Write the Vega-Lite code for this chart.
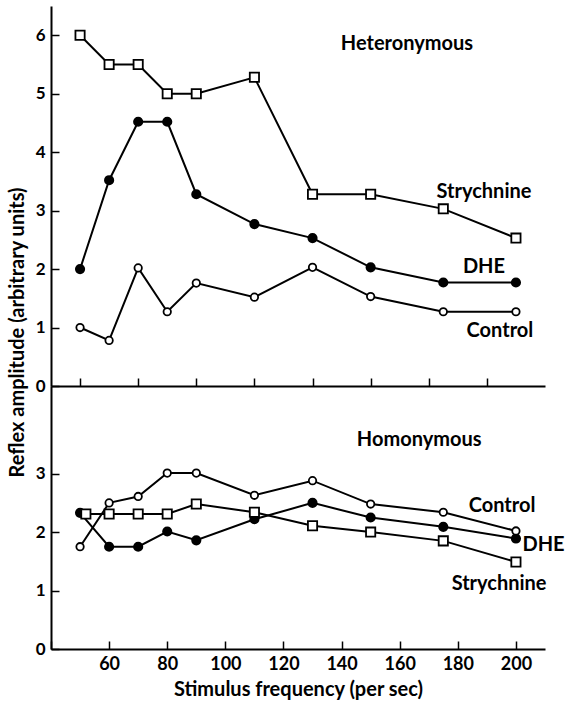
{
  "$schema": "https://vega.github.io/schema/vega-lite/v6.json",
  "background": "white",
  "padding": {"left": 7, "top": 6, "right": 5, "bottom": 5},
  "spacing": 0,
  "bounds": "flush",
  "resolve": {"scale": {"x": "independent", "y": "independent"}, "axis": {"x": "independent", "y": "independent"}},
  "datasets": {
    "het": [
      {"series": "DHE", "freq": 50, "amp": 2.0},
      {"series": "DHE", "freq": 60, "amp": 3.52},
      {"series": "DHE", "freq": 70, "amp": 4.52},
      {"series": "DHE", "freq": 80, "amp": 4.52},
      {"series": "DHE", "freq": 90, "amp": 3.28},
      {"series": "DHE", "freq": 110, "amp": 2.77},
      {"series": "DHE", "freq": 130, "amp": 2.53},
      {"series": "DHE", "freq": 150, "amp": 2.03},
      {"series": "DHE", "freq": 175, "amp": 1.77},
      {"series": "DHE", "freq": 200, "amp": 1.77},
      {"series": "Strychnine", "freq": 50, "amp": 6.0},
      {"series": "Strychnine", "freq": 60, "amp": 5.5},
      {"series": "Strychnine", "freq": 70, "amp": 5.5},
      {"series": "Strychnine", "freq": 80, "amp": 5.0},
      {"series": "Strychnine", "freq": 90, "amp": 5.0},
      {"series": "Strychnine", "freq": 110, "amp": 5.28},
      {"series": "Strychnine", "freq": 130, "amp": 3.28},
      {"series": "Strychnine", "freq": 150, "amp": 3.28},
      {"series": "Strychnine", "freq": 175, "amp": 3.03},
      {"series": "Strychnine", "freq": 200, "amp": 2.53},
      {"series": "Control", "freq": 50, "amp": 1.0},
      {"series": "Control", "freq": 60, "amp": 0.78},
      {"series": "Control", "freq": 70, "amp": 2.02},
      {"series": "Control", "freq": 80, "amp": 1.27},
      {"series": "Control", "freq": 90, "amp": 1.76},
      {"series": "Control", "freq": 110, "amp": 1.52},
      {"series": "Control", "freq": 130, "amp": 2.03},
      {"series": "Control", "freq": 150, "amp": 1.53},
      {"series": "Control", "freq": 175, "amp": 1.27},
      {"series": "Control", "freq": 200, "amp": 1.27}
    ],
    "hom": [
      {"series": "DHE", "freq": 50, "amp": 2.33},
      {"series": "DHE", "freq": 60, "amp": 1.75},
      {"series": "DHE", "freq": 70, "amp": 1.75},
      {"series": "DHE", "freq": 80, "amp": 2.01},
      {"series": "DHE", "freq": 90, "amp": 1.86},
      {"series": "DHE", "freq": 110, "amp": 2.22},
      {"series": "DHE", "freq": 130, "amp": 2.5},
      {"series": "DHE", "freq": 150, "amp": 2.25},
      {"series": "DHE", "freq": 175, "amp": 2.09},
      {"series": "DHE", "freq": 200, "amp": 1.89},
      {"series": "Strychnine", "freq": 52, "amp": 2.31},
      {"series": "Strychnine", "freq": 60, "amp": 2.31},
      {"series": "Strychnine", "freq": 70, "amp": 2.31},
      {"series": "Strychnine", "freq": 80, "amp": 2.31},
      {"series": "Strychnine", "freq": 90, "amp": 2.48},
      {"series": "Strychnine", "freq": 110, "amp": 2.34},
      {"series": "Strychnine", "freq": 130, "amp": 2.11},
      {"series": "Strychnine", "freq": 150, "amp": 2.0},
      {"series": "Strychnine", "freq": 175, "amp": 1.85},
      {"series": "Strychnine", "freq": 200, "amp": 1.49},
      {"series": "Control", "freq": 50, "amp": 1.75},
      {"series": "Control", "freq": 60, "amp": 2.5},
      {"series": "Control", "freq": 70, "amp": 2.61},
      {"series": "Control", "freq": 80, "amp": 3.01},
      {"series": "Control", "freq": 90, "amp": 3.01},
      {"series": "Control", "freq": 110, "amp": 2.63},
      {"series": "Control", "freq": 130, "amp": 2.88},
      {"series": "Control", "freq": 150, "amp": 2.48},
      {"series": "Control", "freq": 175, "amp": 2.34},
      {"series": "Control", "freq": 200, "amp": 2.02}
    ],
    "hetLabels": [
      {"text": "Heteronymous", "freq": 162.5, "amp": 5.85},
      {"text": "Strychnine", "freq": 189, "amp": 3.32},
      {"text": "DHE", "freq": 189, "amp": 2.03},
      {"text": "Control", "freq": 194.5, "amp": 0.94}
    ],
    "homLabels": [
      {"text": "Homonymous", "freq": 166.7, "amp": 3.57},
      {"text": "Control", "freq": 195.2, "amp": 2.45},
      {"text": "DHE", "freq": 209.5, "amp": 1.78},
      {"text": "Strychnine", "freq": 194.2, "amp": 1.11}
    ]
  },
  "vconcat": [
    {
      "width": 494,
      "height": 380,
      "layer": [
        {
          "data": {"name": "het"},
          "mark": {"type": "line", "color": "black", "strokeWidth": 2},
          "encoding": {
            "x": {"field": "freq", "type": "quantitative", "scale": {"domain": [40, 210], "nice": false, "zero": false},
                  "axis": {"title": null, "labels": false, "values": [50, 60, 70, 80, 90, 100, 110, 120, 130, 140, 150, 160, 170, 180, 190, 200]}},
            "y": {"field": "amp", "type": "quantitative", "scale": {"domain": [0, 6.5], "nice": false},
                  "axis": {"title": "Reflex amplitude (arbitrary units)", "values": [0, 0.5, 1, 1.5, 2, 2.5, 3, 3.5, 4, 4.5, 5, 5.5, 6],
                           "labelOverlap": false,
                           "labelExpr": "datum.value % 1 == 0 ? format(datum.value, 'd') : ' '",
                           "titleX": -28, "titleY": 326, "titleAlign": "center", "titleBaseline": "alphabetic"}},
            "detail": {"field": "series"}
          }
        },
        {
          "data": {"name": "het"},
          "mark": {"type": "point", "filled": true, "stroke": "black", "strokeWidth": 1.8, "opacity": 1},
          "encoding": {
            "x": {"field": "freq", "type": "quantitative"},
            "y": {"field": "amp", "type": "quantitative"},
            "shape": {"field": "series", "scale": {"domain": ["Strychnine", "DHE", "Control"], "range": ["square", "circle", "circle"]}, "legend": null},
            "fill": {"field": "series", "scale": {"domain": ["Strychnine", "DHE", "Control"], "range": ["white", "black", "white"]}, "legend": null},
            "size": {"field": "series", "scale": {"domain": ["Strychnine", "DHE", "Control"], "range": [85, 55, 115]}, "legend": null}
          }
        },
        {
          "data": {"name": "hetLabels"},
          "mark": {"type": "text", "font": "Lato", "fontSize": 20, "fontWeight": "bold", "color": "black", "align": "center", "baseline": "middle"},
          "encoding": {
            "x": {"field": "freq", "type": "quantitative"},
            "y": {"field": "amp", "type": "quantitative"},
            "text": {"field": "text"}
          }
        }
      ]
    },
    {
      "width": 494,
      "height": 263,
      "layer": [
        {
          "data": {"name": "hom"},
          "mark": {"type": "line", "color": "black", "strokeWidth": 2},
          "encoding": {
            "x": {"field": "freq", "type": "quantitative", "scale": {"domain": [40, 210], "nice": false, "zero": false},
                  "axis": {"title": "Stimulus frequency (per sec)", "labels": true, "format": "d",
                           "values": [40, 50, 60, 70, 80, 90, 100, 110, 120, 130, 140, 150, 160, 170, 180, 190, 200],
                           "labelOverlap": "parity", "labelFlush": false, "titlePadding": 6, "labelFontSize": 18,
                           "labelExpr": "datum.value >= 55 && round(datum.value) % 20 == 0 ? datum.label : ''"}},
            "y": {"field": "amp", "type": "quantitative", "scale": {"domain": [0, 4.5], "nice": false},
                  "axis": {"title": null, "values": [0, 0.5, 1, 1.5, 2, 2.5, 3, 3.5],
                           "labelOverlap": false,
                           "labelExpr": "datum.value % 1 == 0 ? format(datum.value, 'd') : ' '"}},
            "detail": {"field": "series"}
          }
        },
        {
          "data": {"name": "hom"},
          "mark": {"type": "point", "filled": true, "stroke": "black", "strokeWidth": 1.8, "opacity": 1},
          "encoding": {
            "x": {"field": "freq", "type": "quantitative"},
            "y": {"field": "amp", "type": "quantitative"},
            "shape": {"field": "series", "scale": {"domain": ["Strychnine", "DHE", "Control"], "range": ["square", "circle", "circle"]}, "legend": null},
            "fill": {"field": "series", "scale": {"domain": ["Strychnine", "DHE", "Control"], "range": ["white", "black", "white"]}, "legend": null},
            "size": {"field": "series", "scale": {"domain": ["Strychnine", "DHE", "Control"], "range": [85, 55, 115]}, "legend": null}
          }
        },
        {
          "data": {"name": "homLabels"},
          "mark": {"type": "text", "font": "Lato", "fontSize": 20, "fontWeight": "bold", "color": "black", "align": "center", "baseline": "middle"},
          "encoding": {
            "x": {"field": "freq", "type": "quantitative"},
            "y": {"field": "amp", "type": "quantitative"},
            "text": {"field": "text"}
          }
        }
      ]
    }
  ],
  "config": {
    "view": {"stroke": null},
    "axis": {
      "grid": false,
      "domainColor": "black",
      "domainWidth": 2,
      "tickColor": "black",
      "tickWidth": 1.5,
      "tickSize": -8,
      "labelPadding": 14,
      "labelColor": "black",
      "labelFont": "Lato",
      "labelFontSize": 17,
      "labelFontWeight": "bold",
      "titleColor": "black",
      "titleFont": "Lato",
      "titleFontSize": 20,
      "titleFontWeight": "bold",
      "titlePadding": 4
    }
  }
}
